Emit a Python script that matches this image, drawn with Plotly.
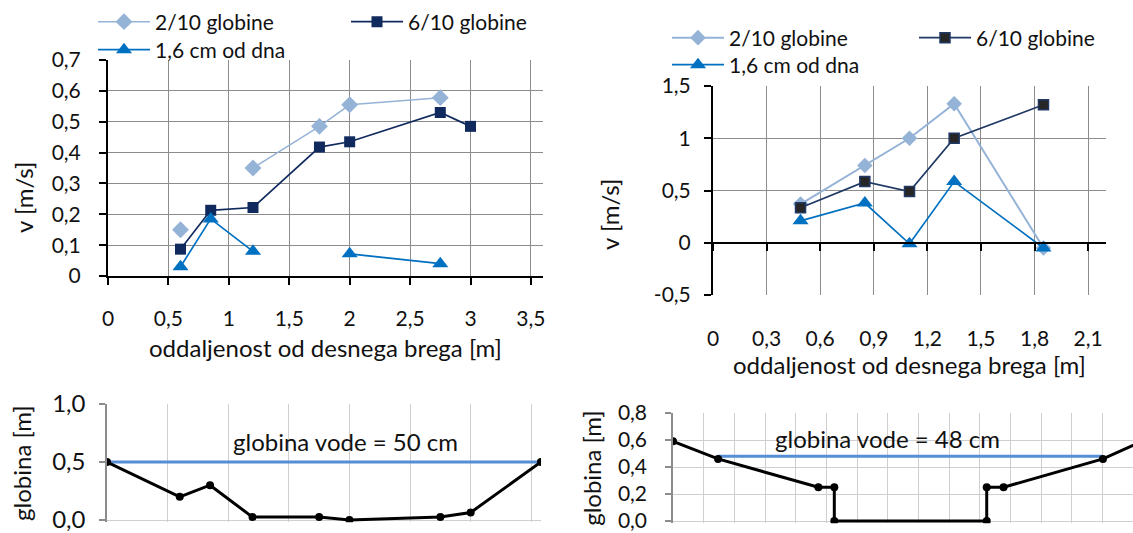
import plotly.graph_objects as go

W, H = 1133, 533
FONT = "Lato"
FS = 21       # tick labels
FS_T = 24     # axis titles / annotations
FS_L = 21     # legend
TXT = "#111111"

# ---------------- data ----------------
# top-left: velocity profile, section 1
tl_x = [0.6, 0.85, 1.2, 1.75, 2.0, 2.75, 3.0]
tl_v02 = [0.15, None, 0.35, 0.485, 0.555, 0.578, None]
tl_v06 = [0.087, 0.213, 0.222, 0.418, 0.435, 0.53, 0.485]
tl_vdno = [0.03, 0.185, 0.08, None, 0.072, 0.04, None]

# top-right: velocity profile, section 2
tr_x = [0.49, 0.85, 1.1, 1.35, 1.85]
tr_v02 = [0.37, 0.74, 1.0, 1.33, -0.05]
tr_v06 = [0.335, 0.585, 0.49, 1.0, 1.32]
tr_vdno = [0.21, 0.38, -0.01, 0.585, -0.05]

# bottom-left: cross-section 1
bl_x = [0, 0.6, 0.85, 1.2, 1.75, 2.0, 2.75, 3.0, 3.58]
bl_bed = [0.5, 0.2, 0.3, 0.025, 0.025, 0.0, 0.025, 0.065, 0.5]
bl_water_x = [0, 3.58]
bl_water_y = [0.5, 0.5]

# bottom-right: cross-section 2
br_x = [0, 0.147, 0.474, 0.526, 0.526, 1.023, 1.023, 1.078, 1.402, 1.53]
br_bed = [0.59, 0.46, 0.25, 0.25, 0.0, 0.0, 0.25, 0.25, 0.46, 0.59]
br_water_x = [0.147, 1.402]
br_water_y = [0.48, 0.48]

# tick labels
tl_xticks = [0, 0.5, 1, 1.5, 2, 2.5, 3, 3.5]
tl_xlabels = ["0", "0,5", "1", "1,5", "2", "2,5", "3", "3,5"]
tl_yticks = [0, 0.1, 0.2, 0.3, 0.4, 0.5, 0.6, 0.7]
tl_ylabels = ["0", "0,1", "0,2", "0,3", "0,4", "0,5", "0,6", "0,7"]
tr_xticks = [0, 0.3, 0.6, 0.9, 1.2, 1.5, 1.8, 2.1]
tr_xlabels = ["0", "0,3", "0,6", "0,9", "1,2", "1,5", "1,8", "2,1"]
tr_yticks = [-0.5, 0, 0.5, 1, 1.5]
tr_ylabels = ["-0,5", "0", "0,5", "1", "1,5"]
bl_xticks = [0, 0.5, 1, 1.5, 2, 2.5, 3, 3.5]
bl_yticks = [0, 0.5, 1.0]
bl_ylabels = ["0,0", "0,5", "1,0"]
br_xticks = [round(0.1 * i, 1) for i in range(16)]
br_yticks = [0, 0.2, 0.4, 0.6, 0.8]
br_ylabels = ["0,0", "0,2", "0,4", "0,6", "0,8"]

names = ["2/10 globine", "6/10 globine", "1,6 cm od dna"]
C02 = "#95B3D7"
C06 = "#102A5E"
CDNO = "#0070C0"

# ---------------- layout helpers ----------------
def fx(px):
    return px / W

def fy(py):
    return 1 - py / H

# bottom charts: small padding below 0 so the bed line at 0 is not clipped
BL_PAD = 0.02
BR_PAD = 0.016
dom = {
    "tl": ([fx(108), fx(543)], [fy(276), fy(60)]),
    "tr": ([fx(713), fx(1106)], [fy(295), fy(86)]),
    "bl": ([fx(107), fx(541)], [fy(520 + BL_PAD * 116), fy(404)]),
    "br": ([fx(673), fx(1133)], [fy(521 + BR_PAD * 135), fy(413)]),
}

fig = go.Figure()

# top-left traces
fig.add_trace(go.Scatter(x=tl_x, y=tl_v02, name=names[0], mode="lines+markers",
                         line=dict(color=C02, width=1.5),
                         marker=dict(symbol="diamond", size=13, color=C02),
                         xaxis="x", yaxis="y", legend="legend"))
fig.add_trace(go.Scatter(x=tl_x, y=tl_v06, name=names[1], mode="lines+markers",
                         line=dict(color=C06, width=1.7),
                         marker=dict(symbol="square", size=11, color=C06),
                         xaxis="x", yaxis="y", legend="legend2"))
fig.add_trace(go.Scatter(x=tl_x, y=tl_vdno, name=names[2], mode="lines+markers",
                         line=dict(color=CDNO, width=1.7),
                         marker=dict(symbol="triangle-up", size=14, color=CDNO),
                         xaxis="x", yaxis="y", legend="legend3"))

# top-right traces
fig.add_trace(go.Scatter(x=tr_x, y=tr_v02, name=names[0], mode="lines+markers",
                         line=dict(color=C02, width=2),
                         marker=dict(symbol="diamond", size=12, color=C02),
                         xaxis="x2", yaxis="y2", legend="legend4"))
fig.add_trace(go.Scatter(x=tr_x, y=tr_v06, name=names[1], mode="lines+markers",
                         line=dict(color="#1F3864", width=1.7),
                         marker=dict(symbol="square", size=10, color="#262626",
                                     line=dict(color="#1F3864", width=1.5)),
                         xaxis="x2", yaxis="y2", legend="legend5"))
fig.add_trace(go.Scatter(x=tr_x, y=tr_vdno, name=names[2], mode="lines+markers",
                         line=dict(color=CDNO, width=1.7),
                         marker=dict(symbol="triangle-up", size=14, color=CDNO),
                         xaxis="x2", yaxis="y2", legend="legend6"))

# bottom-left
fig.add_trace(go.Scatter(x=bl_water_x, y=bl_water_y, mode="lines",
                         line=dict(color="#558ED5", width=3), showlegend=False,
                         xaxis="x3", yaxis="y3"))
fig.add_trace(go.Scatter(x=bl_x, y=bl_bed, mode="lines+markers",
                         line=dict(color="black", width=3),
                         marker=dict(symbol="circle", size=8, color="black"),
                         showlegend=False, xaxis="x3", yaxis="y3"))

# bottom-right
fig.add_trace(go.Scatter(x=br_water_x, y=br_water_y, mode="lines",
                         line=dict(color="#558ED5", width=3), showlegend=False,
                         xaxis="x4", yaxis="y4"))
fig.add_trace(go.Scatter(x=br_x, y=br_bed, mode="lines+markers",
                         line=dict(color="black", width=3),
                         marker=dict(symbol="circle", size=8, color="black"),
                         showlegend=False, xaxis="x4", yaxis="y4"))

tickfont = dict(family=FONT, size=FS, color=TXT)
tickfont_bl = dict(family=FONT, size=24, color=TXT)
titlefont = dict(family=FONT, size=FS_T, color=TXT)

def ax_top(domain, ticks, labels, rng, anchor, title=None, standoff=0,
           lstand=0, **kw):
    d = dict(domain=domain, range=rng, tickmode="array", tickvals=ticks,
             ticktext=labels, showgrid=True, gridcolor="#8C8C8C", gridwidth=1.3,
             zeroline=False, showline=True, linecolor="black", linewidth=2,
             ticks="outside", ticklen=7, tickwidth=2, tickcolor="black",
             tickfont=tickfont, anchor=anchor, ticklabelstandoff=lstand,
             ticklabeloverflow="allow", fixedrange=True, automargin=False)
    if title:
        d["title"] = dict(text=title, font=titlefont, standoff=standoff)
    d.update(kw)
    return d

def ax_bot(domain, ticks, labels, rng, anchor, show_labels, title=None,
           standoff=0, lstand=0, **kw):
    d = dict(domain=domain, range=rng, tickmode="array", tickvals=ticks,
             showgrid=True, gridcolor="#CFCFCF", gridwidth=1.3,
             zeroline=False, showline=True, linecolor="#8C8C8C", linewidth=1.5,
             anchor=anchor, fixedrange=True, tickfont=tickfont, automargin=False)
    if show_labels:
        d.update(ticktext=labels, ticks="outside", ticklen=6, tickcolor="#8C8C8C",
                 tickwidth=1.5, ticklabelstandoff=lstand,
                 ticklabeloverflow="allow")
    else:
        d.update(showticklabels=False, ticks="")
    if title:
        d["title"] = dict(text=title, font=titlefont, standoff=standoff)
    d.update(kw)
    return d

tr_ydom = dom["tr"][1]
zero_pos = tr_ydom[0] + (0 - (-0.5)) / 2.0 * (tr_ydom[1] - tr_ydom[0])

xtitle = "oddaljenost od desnega brega [m]"
ytitle = "v [m/s]"
fig.update_layout(
    width=W, height=H, autosize=False,
    margin=dict(l=0, r=0, t=0, b=0, pad=0, autoexpand=False),
    paper_bgcolor="white", plot_bgcolor="white",
    font=dict(family=FONT, size=FS, color=TXT),
    xaxis=ax_top(dom["tl"][0], tl_xticks, tl_xlabels, [0, 3.6], "y",
                 title=xtitle, standoff=11, lstand=16),
    yaxis=ax_top(dom["tl"][1], tl_yticks, tl_ylabels, [0, 0.7001], "x",
                 lstand=14),
    xaxis2=ax_top(dom["tr"][0], tr_xticks, tr_xlabels, [0, 2.2], "free",
                  title=xtitle, standoff=0, lstand=70, position=zero_pos),
    yaxis2=ax_top(dom["tr"][1], tr_yticks, tr_ylabels, [-0.5, 1.5001], "x2",
                  lstand=9),
    xaxis3=ax_bot(dom["bl"][0], bl_xticks, None, [0, 3.58], "y3", False,
                  showline=False),
    yaxis3=ax_bot(dom["bl"][1], bl_yticks, bl_ylabels, [-BL_PAD, 1.0001], "x3", True,
                  title="globina [m]", standoff=14, lstand=9, tickfont=tickfont_bl),
    xaxis4=ax_bot(dom["br"][0], br_xticks, None, [0, 1.5], "y4", False,
                  showline=False),
    yaxis4=ax_bot(dom["br"][1], br_yticks, br_ylabels, [-BR_PAD, 0.8001], "x4", True,
                  title="globina [m]", standoff=10, lstand=14),
    showlegend=True,
)

leg_common = dict(xanchor="left", yanchor="middle", bgcolor="rgba(0,0,0,0)",
                  borderwidth=0, itemwidth=52,
                  font=dict(family=FONT, size=FS_L, color=TXT),
                  orientation="v", itemclick=False, itemdoubleclick=False)
leg_pos = {
    "legend": (93, 22), "legend2": (346, 22), "legend3": (93, 50),
    "legend4": (667, 38), "legend5": (914, 38), "legend6": (667, 65),
}
for k, (px, py) in leg_pos.items():
    fig.update_layout({k: dict(x=fx(px), y=fy(py), **leg_common)})

# y-axis titles of the velocity charts (placed like the original, below centre)
fig.add_annotation(x=fx(23), y=fy(198), xref="paper", yref="paper", text=ytitle,
                   textangle=-90, showarrow=False, font=titlefont,
                   xanchor="center", yanchor="middle")
fig.add_annotation(x=fx(609), y=fy(215), xref="paper", yref="paper", text=ytitle,
                   textangle=-90, showarrow=False, font=titlefont,
                   xanchor="center", yanchor="middle")

fig.add_annotation(x=1.97, y=0.68, xref="x3", yref="y3", text="globina vode = 50 cm",
                   showarrow=False, font=titlefont)
fig.add_annotation(x=0.70, y=0.61, xref="x4", yref="y4", text="globina vode = 48 cm",
                   showarrow=False, font=titlefont)

fig.write_html("out.html", config=dict(displayModeBar=False))
